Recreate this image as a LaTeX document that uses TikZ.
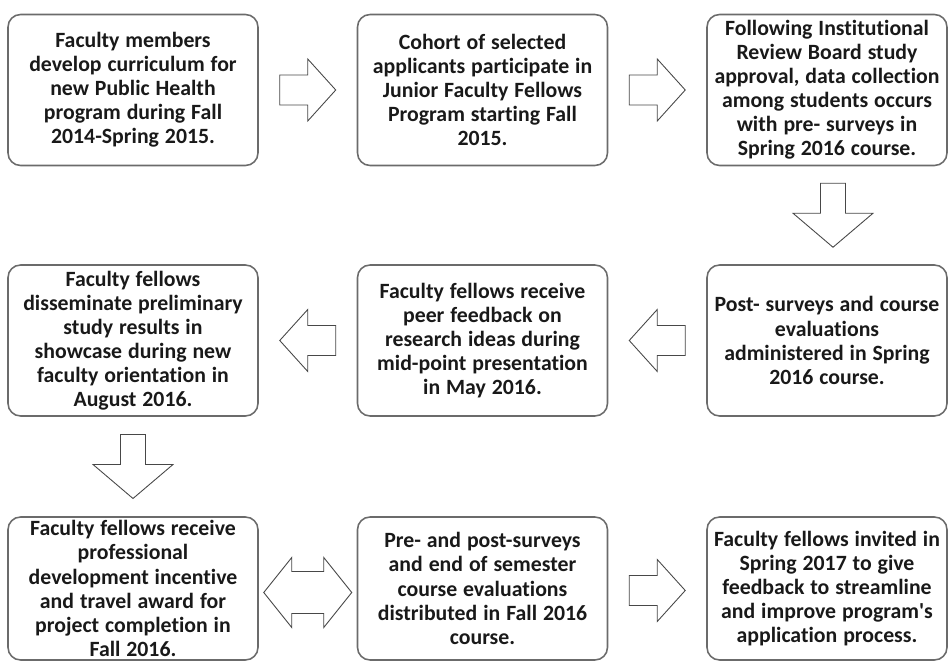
\documentclass[tikz,border=0pt]{standalone}
\usepackage{fontspec}
\setmainfont{Carlito}[Ligatures=NoCommon, WordSpace=1.2]
\usetikzlibrary{calc}

\begin{document}
\begin{tikzpicture}[x=0.02cm, y=-0.02cm,
    stage/.style={draw=black!58, line width=0.9pt, rounded corners=0.25cm,
      minimum width=5cm, minimum height=3.02cm, inner sep=0pt, align=center,
      text=black!90, font=\fontsize{12.4pt}{13.7pt}\selectfont\bfseries},
    edgestage/.style={stage, minimum width=4.8cm},
    arrowline/.style={draw=black!72, line width=0.5pt, fill=white},
    sidearrow/.pic={\draw[arrowline] (-28,-15) -- (0,-15) -- (0,-31) -- (28,0)
      -- (0,31) -- (0,15) -- (-28,15) -- cycle;},
    downarrow/.pic={\draw[arrowline] (-12.5,-32) -- (12.5,-32) -- (12.5,-2)
      -- (40,-2) -- (0,32) -- (-40,-2) -- (-12.5,-2) -- cycle;},
    bothways/.pic={\draw[arrowline] (-44,0) -- (-16,-35) -- (-16,-21) -- (16,-21)
      -- (16,-35) -- (44,0) -- (16,35) -- (16,21) -- (-16,21) -- (-16,35) -- cycle;}]
    \useasboundingbox (0,0) rectangle (948,662);

    \node[stage] (Curr) at (133,90) {Faculty members\\develop curriculum for\\new Public Health\\program during Fall\\2014-Spring 2015.};
    \node[stage] (Cohort) at (482.5,90) {Cohort of selected\\applicants participate in\\Junior Faculty Fellows\\Program starting Fall\\2015.};
    \node[edgestage] (IRB) at (827,90) {Following Institutional\\Review Board study\\approval, data collection\\among students occurs\\with pre- surveys in\\Spring 2016 course.};

    \node[stage] (Dissem) at (133,340.5) {Faculty fellows\\disseminate preliminary\\study results in\\showcase during new\\faculty orientation in\\August 2016.};
    \node[stage] (Peer) at (482.5,340.5) {Faculty fellows receive\\peer feedback on\\research ideas during\\mid-point presentation\\in May 2016.};
    \node[edgestage] (Post) at (827,340.5) {Post- surveys and course\\evaluations\\administered in Spring\\2016 course.};

    \node[stage, minimum height=2.86cm] (Award) at (133,588.5) {Faculty fellows receive\\professional\\development incentive\\and travel award for\\project completion in\\Fall 2016.};
    \node[stage, minimum height=2.86cm] (Surv) at (482.5,588.5) {Pre- and post-surveys\\and end of semester\\course evaluations\\distributed in Fall 2016\\course.};
    \node[edgestage, minimum height=2.86cm] (Invite) at (827,588.5) {Faculty fellows invited in\\Spring 2017 to give\\feedback to streamline\\and improve program\textquotesingle s\\application process.};

    \pic at ($(Curr.east)!0.5!(Cohort.west)$) {sidearrow};
    \pic at ($(Cohort.east)!0.5!(IRB.west)$) {sidearrow};
    \pic at ($(IRB.south)!0.5!(Post.north)+(6,0)$) {downarrow};
    \pic[rotate=180] at ($(Peer.east)!0.5!(Post.west)$) {sidearrow};
    \pic[rotate=180] at ($(Dissem.east)!0.5!(Peer.west)$) {sidearrow};
    \pic at ($(Dissem.south)!0.5!(Award.north)$) {downarrow};
    \pic at ($(Award.east)!0.5!(Surv.west)+(0,4)$) {bothways};
    \pic at ($(Surv.east)!0.5!(Invite.west)+(0,2)$) {sidearrow};
\end{tikzpicture}
\end{document}
